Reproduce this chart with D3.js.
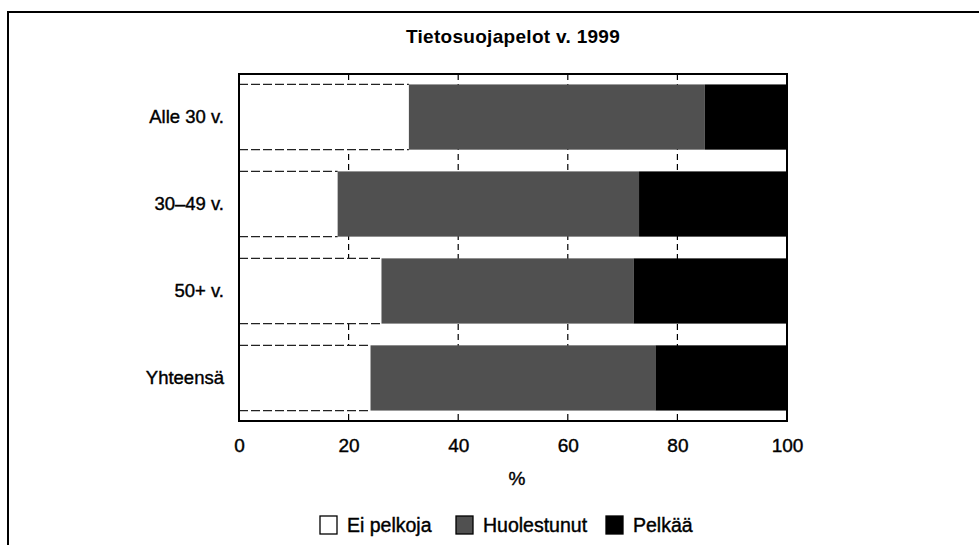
<!DOCTYPE html>
<html><head><meta charset="utf-8">
<script src="https://cdn.jsdelivr.net/npm/d3@7"></script>
<style>body{margin:0;background:#fff}svg{display:block}</style>
</head><body><svg id="c" width="979" height="545"></svg>
<script>
const title = "Tietosuojapelot v. 1999";
const categories = ["Alle 30 v.", "30–49 v.", "50+ v.", "Yhteensä"];
const seriesNames = ["Ei pelkoja", "Huolestunut", "Pelkää"];
const eiPelkoja = [31, 18, 26, 24];
const huolestunut = [54, 55, 46, 52];
const pelkaa = [15, 27, 28, 24];
const xTicks = [0, 20, 40, 60, 80, 100];
const xLabel = "%";

const colors = ["#ffffff", "#505050", "#000000"];
const font = "'Liberation Sans', Arial, Helvetica, sans-serif";

const rows = categories.map((c, i) => ({cat: c, "Ei pelkoja": eiPelkoja[i], "Huolestunut": huolestunut[i], "Pelkää": pelkaa[i]}));
const stacked = d3.stack().keys(seriesNames)(rows);

const svg = d3.select("#c");
const L = 239, R = 787, T = 74, B = 421;
const x = d3.scaleLinear().domain([0, 100]).range([L, R]);
const y = d3.scaleBand().domain(categories).range([T, B]).paddingInner(0.25).paddingOuter(0.12);

// outer frame
svg.append("path").attr("d", `M8,${545}V12H979`).attr("fill", "none").attr("stroke", "#000").attr("stroke-width", 2);

// title
svg.append("text").attr("x", 513).attr("y", 36).attr("text-anchor", "middle").attr("dominant-baseline", "central")
  .attr("font-family", font).attr("font-weight", "bold").attr("font-size", 19).attr("letter-spacing", 0.3).text(title);

// gridlines
svg.append("g").selectAll("line").data(xTicks.filter(t => t > 0 && t < 100)).join("line")
  .attr("x1", d => x(d)).attr("x2", d => x(d)).attr("y1", T).attr("y2", B)
  .attr("stroke", "#000").attr("stroke-width", 1.2).attr("stroke-dasharray", "6,4");

// bars
const gs = svg.append("g").selectAll("g").data(stacked).join("g").attr("fill", (d, i) => colors[i]);
gs.selectAll("rect").data(d => d.map(v => ({v, key: d.key}))).join("rect")
  .attr("x", d => x(d.v[0])).attr("width", d => x(d.v[1]) - x(d.v[0]))
  .attr("y", d => y(d.v.data.cat)).attr("height", y.bandwidth());

// dashed outline of white segments (top/bottom)
const white = stacked[0];
svg.append("g").selectAll("path").data(white).join("path")
  .attr("d", d => `M${x(d[0])},${y(d.data.cat)}H${x(d[1])}M${x(d[0])},${y(d.data.cat) + y.bandwidth()}H${x(d[1])}`)
  .attr("fill", "none").attr("stroke", "#222").attr("stroke-width", 1.2).attr("stroke-dasharray", "9,3");

// plot frame
svg.append("rect").attr("x", L).attr("y", T).attr("width", R - L).attr("height", B - T)
  .attr("fill", "none").attr("stroke", "#000").attr("stroke-width", 2);

// axes labels
const xAxis = d3.axisBottom(x).tickValues(xTicks).tickSize(0).tickPadding(0);
const ax = svg.append("g").attr("transform", `translate(0,${B})`).call(xAxis);
ax.select(".domain").remove();
ax.selectAll("text").attr("y", 24).attr("dy", "0.35em").attr("font-family", font).attr("font-size", 19)
  .attr("fill", "#000").attr("stroke", "#000").attr("stroke-width", 0.4);

const yAxis = d3.axisLeft(y).tickSize(0).tickPadding(0);
const ay = svg.append("g").attr("transform", `translate(224,0)`).call(yAxis);
ay.select(".domain").remove();
ay.selectAll("text").attr("font-family", font).attr("font-size", 18.5)
  .attr("fill", "#000").attr("stroke", "#000").attr("stroke-width", 0.4);

svg.append("text").attr("x", 517).attr("y", 478).attr("text-anchor", "middle").attr("dominant-baseline", "central")
  .attr("font-family", font).attr("font-size", 19).attr("stroke", "#000").attr("stroke-width", 0.4).text(xLabel);

// legend
const legendX = [320, 456, 606];
const lg = svg.append("g").selectAll("g").data(seriesNames).join("g")
  .attr("transform", (d, i) => `translate(${legendX[i]},525)`);
lg.append("rect").attr("x", 0).attr("y", -9).attr("width", 17).attr("height", 18)
  .attr("fill", (d, i) => colors[i]).attr("stroke", "#000").attr("stroke-width", 1.3);
lg.append("text").attr("x", 27).attr("y", 0).attr("dominant-baseline", "central")
  .attr("font-family", font).attr("font-size", 19.5).attr("stroke", "#000").attr("stroke-width", 0.4).text(d => d);
</script></body></html>
